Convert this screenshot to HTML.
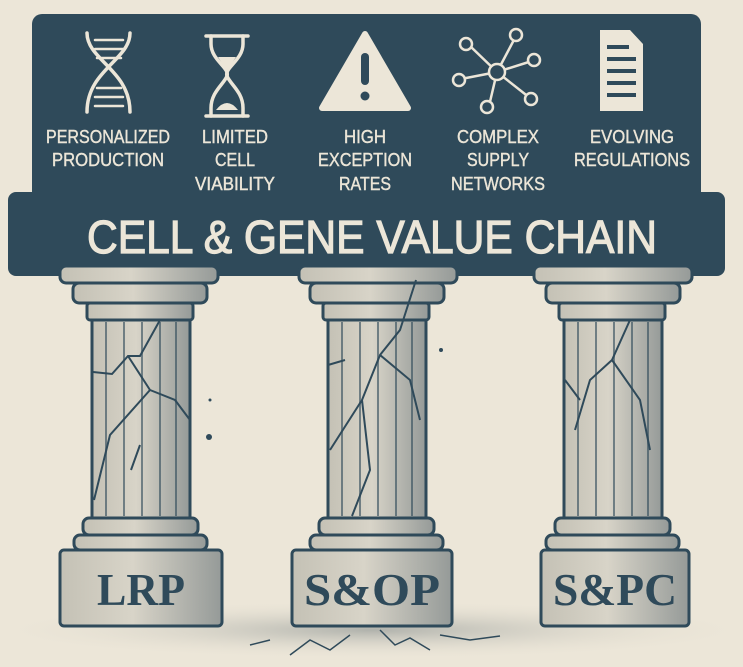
<!DOCTYPE html>
<html><head><meta charset="utf-8"><style>
html,body{margin:0;padding:0;background:#ece6d8;}
svg{display:block}
</style></head><body>
<svg width="743" height="667" viewBox="0 0 743 667" xmlns="http://www.w3.org/2000/svg">
<defs>
<linearGradient id="st" x1="0" x2="1" y1="0" y2="0">
<stop offset="0" stop-color="#c4c1b5"/><stop offset="0.45" stop-color="#d8d4c8"/><stop offset="1" stop-color="#959a98"/>
</linearGradient>
<radialGradient id="gnd" cx="0.5" cy="0.5" r="0.5">
<stop offset="0" stop-color="#b0b2ac"/><stop offset="1" stop-color="#ece6d8" stop-opacity="0"/>
</radialGradient>
</defs>
<rect width="743" height="667" fill="#ece6d8"/>
<ellipse cx="372" cy="630" rx="390" ry="30" fill="url(#gnd)"/>

<rect x="32" y="14" width="669" height="200" rx="10" fill="#2f4a5a"/>
<rect x="8" y="192" width="717" height="84" rx="8" fill="#2f4a5a"/>

<g stroke="#ece6d8" fill="none" stroke-width="3.5" stroke-linecap="round">
 <path d="M87 33 C87 60 130 70 130 112"/>
 <path d="M130 33 C130 60 87 70 87 112"/>
 <path d="M95 40h28M95 49h28M97 58h24M97 88h24M95 97h28M95 106h28" stroke-width="2.5"/>
 <path d="M206 36h42M206 116h42"/>
 <path d="M211 36 v8 C211 60 230 68 227 76 C224 84 211 92 211 108 v8"/>
 <path d="M243 36 v8 C243 60 224 68 227 76 C230 84 243 92 243 108 v8"/>
</g>
<path d="M218 57h18l-9 14z M216 110 q11 -14 22 0z" fill="#ece6d8"/>
<path d="M365 34 L408 108 H322 Z" fill="#ece6d8" stroke="#ece6d8" stroke-width="6" stroke-linejoin="round"/>
<rect x="361" y="53" width="8" height="32" rx="4" fill="#2f4a5a"/>
<circle cx="365" cy="96" r="4.5" fill="#2f4a5a"/>
<g stroke="#ece6d8" stroke-width="2.5" fill="none">
 <line x1="497" y1="72" x2="470" y2="46"/><line x1="497" y1="72" x2="516" y2="36"/>
 <line x1="497" y1="72" x2="532" y2="61"/><line x1="497" y1="72" x2="530" y2="98"/>
 <line x1="497" y1="72" x2="489" y2="106"/><line x1="497" y1="72" x2="461" y2="79"/>
 <circle cx="497" cy="72" r="8" fill="#2f4a5a"/>
 <circle cx="466" cy="44" r="6" fill="#2f4a5a"/><circle cx="516" cy="35" r="6" fill="#2f4a5a"/>
 <circle cx="534" cy="60" r="6" fill="#2f4a5a"/><circle cx="531" cy="99" r="6" fill="#2f4a5a"/>
 <circle cx="487" cy="107" r="6" fill="#2f4a5a"/><circle cx="459" cy="80" r="6" fill="#2f4a5a"/>
</g>
<path d="M600 30 H630 L643 44 V111 H600 Z" fill="#ece6d8"/>
<g fill="#2f4a5a"><rect x="607" y="45" width="22" height="4"/><rect x="607" y="57" width="29" height="4"/><rect x="607" y="69" width="29" height="4"/><rect x="607" y="81" width="29" height="4"/><rect x="607" y="93" width="29" height="4"/></g>

<g fill="#ece6d8" stroke="#ece6d8" stroke-width="0.4" font-family="Liberation Sans, sans-serif" font-size="18" text-anchor="middle">
<text x="108" y="143" textLength="124" lengthAdjust="spacingAndGlyphs">PERSONALIZED</text>
<text x="108" y="166" textLength="112" lengthAdjust="spacingAndGlyphs">PRODUCTION</text>
<text x="235" y="143" textLength="66" lengthAdjust="spacingAndGlyphs">LIMITED</text>
<text x="235" y="166" textLength="40" lengthAdjust="spacingAndGlyphs">CELL</text>
<text x="235" y="190" textLength="80" lengthAdjust="spacingAndGlyphs">VIABILITY</text>
<text x="365" y="143" textLength="42" lengthAdjust="spacingAndGlyphs">HIGH</text>
<text x="365" y="166" textLength="94" lengthAdjust="spacingAndGlyphs">EXCEPTION</text>
<text x="365" y="190" textLength="52" lengthAdjust="spacingAndGlyphs">RATES</text>
<text x="498" y="143" textLength="82" lengthAdjust="spacingAndGlyphs">COMPLEX</text>
<text x="498" y="166" textLength="62" lengthAdjust="spacingAndGlyphs">SUPPLY</text>
<text x="498" y="190" textLength="94" lengthAdjust="spacingAndGlyphs">NETWORKS</text>
<text x="632" y="143" textLength="84" lengthAdjust="spacingAndGlyphs">EVOLVING</text>
<text x="632" y="166" textLength="116" lengthAdjust="spacingAndGlyphs">REGULATIONS</text>
<text x="372" y="253" font-size="46" stroke-width="1.2" textLength="570" lengthAdjust="spacingAndGlyphs">CELL &amp; GENE VALUE CHAIN</text>
</g>

<g stroke="#2f4a5a" stroke-width="3" fill="url(#st)">
<rect x="60" y="266" width="158" height="17" rx="6"/>
<rect x="73" y="283" width="134" height="20" rx="6"/>
<rect x="87" y="303" width="106" height="17" rx="3"/>
<rect x="92" y="320" width="98" height="198"/>
<path d="M106 322v194M124 322v194M142 322v194M160 322v194M176 322v194" stroke-width="2" opacity="0.6"/>
<path d="M93 372 L112 374 L128 356 L140 356 L160 320 M128 356 L150 390 L175 400 L190 420 M150 390 L110 435 L94 500 M140 445 L131 470" stroke-width="2" fill="none"/>
<rect x="83" y="518" width="115" height="17" rx="6"/>
<rect x="74" y="535" width="133" height="15" rx="6"/>
<rect x="60" y="550" width="162" height="76" rx="4"/>
</g>
<g stroke="#2f4a5a" stroke-width="3" fill="url(#st)">
<rect x="299" y="266" width="158" height="17" rx="6"/>
<rect x="310" y="283" width="134" height="20" rx="6"/>
<rect x="323" y="303" width="106" height="17" rx="3"/>
<rect x="328" y="320" width="98" height="198"/>
<path d="M342 322v194M360 322v194M378 322v194M396 322v194M412 322v194" stroke-width="2" opacity="0.6"/>
<path d="M416 280 L400 330 L380 355 L362 400 L370 470 L352 516 M380 355 L410 380 L420 420 M362 400 L330 450 M345 360 L328 365" stroke-width="2" fill="none"/>
<rect x="319" y="518" width="115" height="17" rx="6"/>
<rect x="310" y="535" width="133" height="15" rx="6"/>
<rect x="292" y="550" width="160" height="76" rx="4"/>
</g>
<g stroke="#2f4a5a" stroke-width="3" fill="url(#st)">
<rect x="534" y="266" width="158" height="17" rx="6"/>
<rect x="546" y="283" width="134" height="20" rx="6"/>
<rect x="559" y="303" width="106" height="17" rx="3"/>
<rect x="564" y="320" width="98" height="198"/>
<path d="M578 322v194M596 322v194M614 322v194M632 322v194M648 322v194" stroke-width="2" opacity="0.6"/>
<path d="M630 320 L612 360 L590 380 L575 430 M612 360 L640 400 L650 450 M565 380 L580 400" stroke-width="2" fill="none"/>
<rect x="555" y="518" width="115" height="17" rx="6"/>
<rect x="546" y="535" width="133" height="15" rx="6"/>
<rect x="541" y="550" width="148" height="76" rx="4"/>
</g>
<g stroke="#2f4a5a" stroke-width="1.5" fill="none">
<path d="M290 655 L310 640 L330 650 L350 635 M380 630 L395 645 L410 638 L430 650 M440 635 L470 640 L500 636 M250 645 L270 640"/>
</g>
<circle cx="209" cy="437" r="3" fill="#2f4a5a"/>
<circle cx="210" cy="400" r="1.5" fill="#2f4a5a"/>
<circle cx="441" cy="350" r="2" fill="#2f4a5a"/>
<g fill="#2f4a5a" font-family="Liberation Serif, serif" font-weight="bold" font-size="46" text-anchor="middle">
<text x="141" y="605" textLength="88" lengthAdjust="spacingAndGlyphs">LRP</text>
<text x="372" y="605" textLength="136" lengthAdjust="spacingAndGlyphs">S&amp;OP</text>
<text x="615" y="605" textLength="124" lengthAdjust="spacingAndGlyphs">S&amp;PC</text>
</g>
</svg>
</body></html>
